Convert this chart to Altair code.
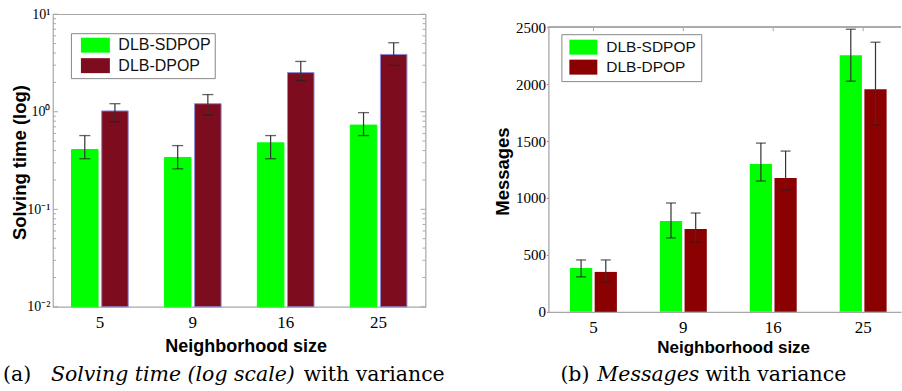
import json
import altair as alt
import pandas as pd

# ---------------- data ----------------
sizes = ["5", "9", "16", "25"]
methods = ["DLB-SDPOP", "DLB-DPOP"]

# (a) solving time (seconds, log scale) with variance
time_sdpop = [0.41, 0.34, 0.48, 0.73]
time_sdpop_lo = [0.33, 0.26, 0.33, 0.57]
time_sdpop_hi = [0.57, 0.45, 0.57, 0.98]
time_dpop = [1.02, 1.21, 2.52, 3.87]
time_dpop_lo = [0.79, 0.93, 2.09, 2.98]
time_dpop_hi = [1.21, 1.50, 3.28, 5.10]

# (b) messages with variance
msg_sdpop = [386, 798, 1298, 2254]
msg_sdpop_lo = [307, 649, 1149, 2026]
msg_sdpop_hi = [456, 956, 1482, 2482]
msg_dpop = [351, 728, 1175, 1956]
msg_dpop_lo = [263, 614, 1070, 1640]
msg_dpop_hi = [456, 868, 1412, 2368]

log_ticks = [0.01, 0.1, 1, 10]
log_tick_labels = ["10⁻²", "10⁻¹", "10⁰", "10¹"]
log_minor_ticks = [0.02, 0.03, 0.04, 0.05, 0.06, 0.07, 0.08, 0.09,
                   0.2, 0.3, 0.4, 0.5, 0.6, 0.7, 0.8, 0.9,
                   2, 3, 4, 5, 6, 7, 8, 9]
msg_ticks = [0, 500, 1000, 1500, 2000, 2500]

caption_a = ["(a)", "Solving time (log scale)", "with variance"]
caption_b = ["(b)", "Messages", "with variance"]
y_title_a = "Solving time (log)"
y_title_b = "Messages"
x_title = "Neighborhood size"


def long_table(a, a_lo, a_hi, b, b_lo, b_hi):
    rows = []
    for i, s in enumerate(sizes):
        rows.append(dict(size=s, method=methods[0], v=a[i], lo=a_lo[i], hi=a_hi[i]))
        rows.append(dict(size=s, method=methods[1], v=b[i], lo=b_lo[i], hi=b_hi[i]))
    return pd.DataFrame(rows)


df_time = long_table(time_sdpop, time_sdpop_lo, time_sdpop_hi,
                     time_dpop, time_dpop_lo, time_dpop_hi)
df_msg = long_table(msg_sdpop, msg_sdpop_lo, msg_sdpop_hi,
                    msg_dpop, msg_dpop_lo, msg_dpop_hi)
df_minor = pd.DataFrame({"v": log_minor_ticks})
df_major = pd.DataFrame({"v": log_ticks})
df_sizes = pd.DataFrame({"size": sizes})

GREEN = "#00ff00"
MAROON_A = "#7e0c1f"
MAROON_B = "#8b0000"
FRAME = "#a8a8a8"
SERIF = "Liberation Serif"
SANS = "Liberation Sans"
CAP_FONT = "DejaVu Serif"
NBSP = "\u00a0"

label_expr = f"{json.dumps(log_tick_labels, ensure_ascii=False)}[round(log(datum.value)/LN10) + 2]"

# ---------------- left chart: solving time ----------------
WA, HA = 373, 293

xa_scale = alt.Scale(domain=sizes, paddingInner=0.39, paddingOuter=0.2)
xa_axis = alt.Axis(labelAngle=0, labelFont=SERIF, labelFontSize=17, labelPadding=8,
                   labelColor="#000", ticks=False, domain=False,
                   title=x_title, titleFont=SANS, titleFontWeight="bold",
                   titleFontSize=18, titleColor="#000", titleX=193, titleY=40,
                   titleAlign="center", titleBaseline="middle")
ya_scale = alt.Scale(type="log", domain=[0.01, 10], nice=False)
ya_axis = alt.Axis(values=log_ticks, labelExpr=label_expr, ticks=False, grid=False,
                   domain=False, labelFont=SERIF, labelFontSize=14, labelPadding=3,
                   labelColor="#000", title=y_title_a, titleFont=SANS,
                   titleFontWeight="bold", titleFontSize=18.5, titleColor="#000",
                   titleX=-33, titleY=148, titleAngle=270, titleAlign="center",
                   titleBaseline="middle")
xoff_a = alt.XOffset("method:N", sort=methods, scale=alt.Scale(domain=methods, paddingInner=0.12))


def YA(field):
    return alt.Y(field, type="quantitative", scale=ya_scale, axis=ya_axis)


XA = alt.X("size:N", sort=sizes, scale=xa_scale, axis=xa_axis)

# wide rectangular swatches: unit square path scaled by sqrt(size)/2 = 8 px
legend_a = alt.Legend(orient="none", legendX=18, legendY=19, title=None,
                      symbolType="M-1.8125,-0.9375H1.8125V0.9375H-1.8125Z", symbolSize=256,
                      symbolOffset=12.5, symbolStrokeWidth=0, symbolOpacity=1,
                      labelFont=SANS, labelFontSize=16, labelColor="#111",
                      labelExpr=f"datum.label + '{NBSP}'",
                      labelOffset=15, padding=4, rowPadding=4.5,
                      strokeColor="#888", fillColor="#ffffff", cornerRadius=0)

bars_a = alt.Chart(df_time).mark_bar(strokeWidth=1).encode(
    x=XA, xOffset=xoff_a, y=YA("v"), y2=alt.Y2Datum(0.01),
    color=alt.Color("method:N", sort=methods,
                    scale=alt.Scale(domain=methods, range=[GREEN, MAROON_A]),
                    legend=legend_a),
    stroke=alt.Stroke("method:N", scale=alt.Scale(domain=methods, range=[GREEN, "#8c8cd8"]),
                      legend=None),
)
err_a = alt.Chart(df_time).mark_rule(color="#333", strokeWidth=1.2).encode(
    x=XA, xOffset=xoff_a, y=YA("lo"), y2="hi")
cap_lo_a = alt.Chart(df_time).mark_tick(color="#222", orient="horizontal", size=11, thickness=1.3).encode(
    x=XA, xOffset=xoff_a, y=YA("lo"))
cap_hi_a = alt.Chart(df_time).mark_tick(color="#222", orient="horizontal", size=11, thickness=1.3).encode(
    x=XA, xOffset=xoff_a, y=YA("hi"))

minor_l = alt.Chart(df_minor).mark_rule(color=FRAME, strokeWidth=1).encode(
    y=YA("v"), x=alt.value(0), x2=alt.value(3))
minor_r = alt.Chart(df_minor).mark_rule(color=FRAME, strokeWidth=1).encode(
    y=YA("v"), x=alt.value(WA), x2=alt.value(WA - 3))
major_l = alt.Chart(df_major).mark_rule(color=FRAME, strokeWidth=1).encode(
    y=YA("v"), x=alt.value(0), x2=alt.value(5))
major_r = alt.Chart(df_major).mark_rule(color=FRAME, strokeWidth=1).encode(
    y=YA("v"), x=alt.value(WA), x2=alt.value(WA - 5))


def caption_layers(parts, xs, y):
    out = []
    styles = ["normal", "italic", "normal"]
    for p, x, st in zip(parts, xs, styles):
        out.append(
            alt.Chart(pd.DataFrame({"t": [p]})).mark_text(
                font=CAP_FONT, fontSize=20.5, fontStyle=st, align="left",
                baseline="alphabetic", color="#000"
            ).encode(text="t:N", x=alt.value(x), y=alt.value(y))
        )
    return out


left = alt.layer(
    bars_a, err_a, cap_lo_a, cap_hi_a, minor_l, minor_r, major_l, major_r,
    *caption_layers(caption_a, [-50, -2, 251], 367),
).properties(width=WA, height=HA, view=alt.ViewBackground(stroke=FRAME, strokeWidth=1.2))

# ---------------- right chart: messages ----------------
WB, HB, TOPB = 353, 298, 13

xb_scale = alt.Scale(domain=sizes, paddingInner=0.478, paddingOuter=0.2, align=0.6)
xb_axis = alt.Axis(labelAngle=0, labelFont=SERIF, labelFontSize=17, labelPadding=8,
                   labelColor="#000", ticks=False, domainColor=FRAME, domainWidth=1.3,
                   title=x_title, titleFont=SANS, titleFontWeight="bold",
                   titleFontSize=17, titleColor="#000", titleX=185, titleY=36,
                   titleAlign="center", titleBaseline="middle")
yb_scale = alt.Scale(domain=[0, 2500], nice=False, range=[HB, TOPB])
yb_axis = alt.Axis(values=msg_ticks, format="d", grid=False, tickSize=2, tickColor="#888",
                   domainColor=FRAME, domainWidth=1.3, labelFont=SERIF,
                   labelFontSize=15, labelPadding=1, labelColor="#000",
                   title=y_title_b, titleFont=SANS, titleFontWeight="bold",
                   titleFontSize=18.5, titleColor="#000", titleX=-46, titleY=157,
                   titleAngle=270, titleAlign="center", titleBaseline="middle")
xoff_b = alt.XOffset("method:N", sort=methods, scale=alt.Scale(domain=methods, paddingInner=0.1))


def YB(field):
    return alt.Y(field, type="quantitative", scale=yb_scale, axis=yb_axis)


XB = alt.X("size:N", sort=sizes, scale=xb_scale, axis=xb_axis)

legend_b = alt.Legend(orient="none", legendX=13, legendY=20, title=None,
                      symbolType="M-1.75,-0.9375H1.75V0.9375H-1.75Z", symbolSize=256,
                      symbolOffset=9, symbolStrokeWidth=0, symbolOpacity=1,
                      labelFont=SANS, labelFontSize=15.5, labelColor="#111",
                      labelExpr=f"datum.label + '{NBSP * 2}'",
                      labelOffset=15, padding=5, rowPadding=3,
                      strokeColor="#888", fillColor="#ffffff", cornerRadius=0)

bars_b = alt.Chart(df_msg).mark_bar().encode(
    x=XB, xOffset=xoff_b, y=YB("v"),
    color=alt.Color("method:N", sort=methods,
                    scale=alt.Scale(domain=methods, range=[GREEN, MAROON_B]),
                    legend=legend_b),
)
err_b = alt.Chart(df_msg).mark_rule(color="#333", strokeWidth=1.2).encode(
    x=XB, xOffset=xoff_b, y=YB("lo"), y2="hi")
cap_lo_b = alt.Chart(df_msg).mark_tick(color="#222", orient="horizontal", size=10, thickness=1.3).encode(
    x=XB, xOffset=xoff_b, y=YB("lo"))
cap_hi_b = alt.Chart(df_msg).mark_tick(color="#222", orient="horizontal", size=10, thickness=1.3).encode(
    x=XB, xOffset=xoff_b, y=YB("hi"))
top_line = alt.Chart(df_sizes).mark_rule(color=FRAME, strokeWidth=1.3).encode(
    x=alt.value(0), x2=alt.value(WB), y=alt.value(TOPB))
top_ticks = alt.Chart(df_sizes).mark_rule(color=FRAME, strokeWidth=1).encode(
    x=XB, y=alt.value(TOPB), y2=alt.value(TOPB + 4))

right = alt.layer(
    bars_b, err_b, cap_lo_b, cap_hi_b, top_line, top_ticks,
    *caption_layers(caption_b, [12, 49, 157], 367),
).properties(width=WB, height=HB, view=alt.ViewBackground(strokeWidth=0))

chart = alt.hconcat(left, right, spacing=123, bounds="flush").resolve_scale(
    color="independent", stroke="independent", x="independent", y="independent",
    xOffset="independent",
).configure(
    padding={"left": 2, "top": 6, "right": 0, "bottom": 0},
    background="#ffffff",
)

chart.save("out.html", embed_options={"renderer": "svg", "actions": False})
